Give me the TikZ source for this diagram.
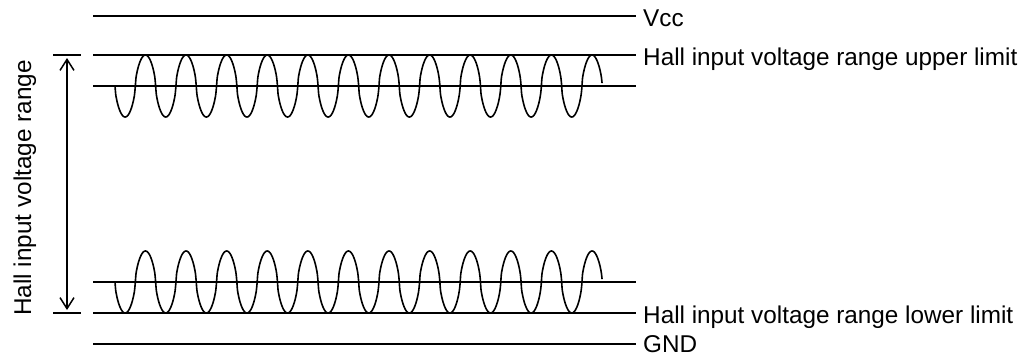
\documentclass[tikz,border=0pt]{standalone}
\usepackage{fontspec}
\setmainfont{Liberation Sans}
\usetikzlibrary{arrows.meta,positioning}

\begin{document}
\begin{tikzpicture}[
  x=1pt, y=-1pt,
  level/.style={line width=1.6pt},
  wave/.style={line width=1.6pt, line join=round},
  lbl/.style={anchor=base west, inner sep=0pt, font=\fontsize{24.3}{28}\selectfont},
  span/.style={line width=1.5pt, {Straight Barb[length=11pt,width=14pt]}-{Straight Barb[length=11pt,width=14pt]}}
]
  \useasboundingbox (0,0) rectangle (1033,354);

  % Voltage levels
  \foreach \nm/\y in {vcc/16, upper/55, uppermid/86, lowermid/282, lower/313, gnd/344} {
    \coordinate (\nm L) at (93,\y);
    \coordinate (\nm R) at (636,\y);
    \draw[level] (\nm L) -- (\nm R);
  }

  % Level labels
  \node[lbl] (vcclbl) at ([xshift=7pt, yshift=-10pt]vccR) {Vcc};
  \node[lbl] (upperlbl) at ([xshift=7pt, yshift=-10pt]upperR) {Hall input voltage range upper limit};
  \node[lbl] (lowerlbl) at ([xshift=7pt, yshift=-10pt]lowerR) {Hall input voltage range lower limit};
  \node[lbl] (gndlbl) at ([xshift=7pt, yshift=-8pt]gndR) {GND};

  % Hall signals
  \foreach \mid in {86, 282}
    \draw[wave] plot[domain=0:12, samples=721, smooth, variable=\t]
      ({115+40.6*\t},{\mid+31*sign(sin(360*\t))*abs(sin(360*\t))^0.6});

  % Input range span
  \coordinate (tickTL) at (53,55);
  \coordinate (tickTR) at (81,55);
  \coordinate (tickBL) at (53,313);
  \coordinate (tickBR) at (81,313);
  \draw[level] (tickTL) -- (tickTR);
  \draw[level] (tickBL) -- (tickBR);
  \coordinate (spanT) at (67,58);
  \coordinate (spanB) at (67,310);
  \draw[span] (spanT) -- (spanB);
  \node[lbl, anchor=base, rotate=90] (rangelbl) at (31,188) {Hall input voltage range};
\end{tikzpicture}
\end{document}
